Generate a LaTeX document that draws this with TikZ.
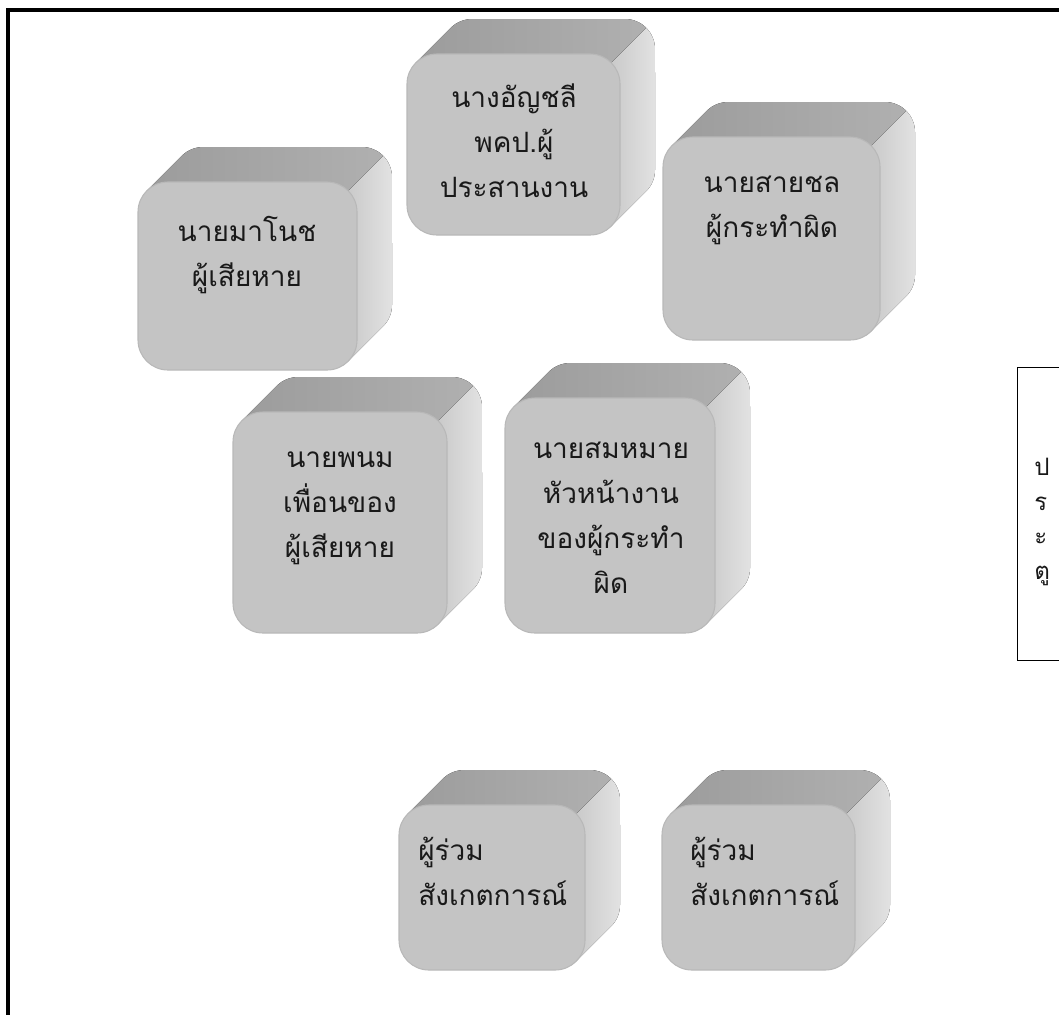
\documentclass[tikz,border=0pt]{standalone}
\usepackage{xcolor}
\usepackage{fontspec}
\usepackage{tikz}
\newfontfamily\thaifont[Script=Thai]{Loma}
\definecolor{frontgray}{HTML}{C4C4C4}
\definecolor{topgray}{HTML}{9C9C9C}
\definecolor{sidegray}{HTML}{E2E2E2}
\tikzset{
    every node/.style={font=\thaifont\fontsize{21}{33.75}\selectfont, text=black!90},
    topface/.style={left color=topgray, right color=topgray!80!white},
    sideface/.style={left color=frontgray!90!white, right color=sidegray},
    frontface/.style={fill=frontgray, draw=black!28, line width=0.8pt, rounded corners=22.5pt},
    who/.style={align=center, inner sep=0pt},
    doorlabel/.style={align=left, inner sep=0pt, font=\thaifont\fontsize{18}{26}\selectfont}
}
% one raised box: left, top, right, bottom (pixels, y downwards)
\newcommand{\solidbox}[4]{%
    \fill[topface] (#1+8.8,#2+8.8) -- ++(35,-35)
        arc[start angle=225, end angle=270, radius=30] -- (#3+5,#2-35)
        arc[start angle=270, end angle=315, radius=30] -- (#3-8.8,#2+8.8) -- cycle;
    \fill[sideface] (#3-8.8,#2+8.8) -- ++(35,-35)
        arc[start angle=315, end angle=360, radius=30] -- (#3+35,#4-65)
        arc[start angle=0, end angle=45, radius=30] -- (#3-8.8,#4-8.8) -- cycle;
    \draw[frontface] (#1,#2) rectangle (#3,#4);
}

\begin{document}
\begin{tikzpicture}[x=0.75pt, y=-0.75pt]
    \useasboundingbox (0,0) rectangle (1059,1015);

    % Draw frame
    \draw[line width=2.6pt] (1059,10) -- (8,10) -- (8,1015);

    % Draw boxes
    \foreach \xa/\ya/\xb/\yb in {407/54/620/235, 138/182/357/370, 663/137/880/340,
                                  233/412/447/633, 505/398/715/633,
                                  399/805/585/970, 662/805/855/970} {
        \solidbox{\xa}{\ya}{\xb}{\yb}
    }

    % People
    \node[who] (anchali) at (514,141) {นางอัญชลี\\พคป.ผู้\\ประสานงาน};
    \node[who] (manot) at (247,255) {นายมาโนช\\ผู้เสียหาย};
    \node[who] (saichon) at (772,210) {นายสายชล\\ผู้กระทำผิด};
    \node[who] (phanom) at (340,508) {นายพนม\\เพื่อนของ\\ผู้เสียหาย};
    \node[who] (sommai) at (611,518) {นายสมหมาย\\หัวหน้างาน\\ของผู้กระทำ\\ผิด};
    \node[who, align=left, anchor=west] (observer1) at (418,871) {ผู้ร่วม\\สังเกตการณ์};
    \node[who, align=left, anchor=west] (observer2) at (690,871) {ผู้ร่วม\\สังเกตการณ์};

    % Door
    \draw (1059,367) -- (1017,367) -- (1017,660) -- (1059,660);
    \node[doorlabel, anchor=west] (door) at (1034,522) {ป\\ร\\ะ\\ตู};
\end{tikzpicture}
\end{document}
